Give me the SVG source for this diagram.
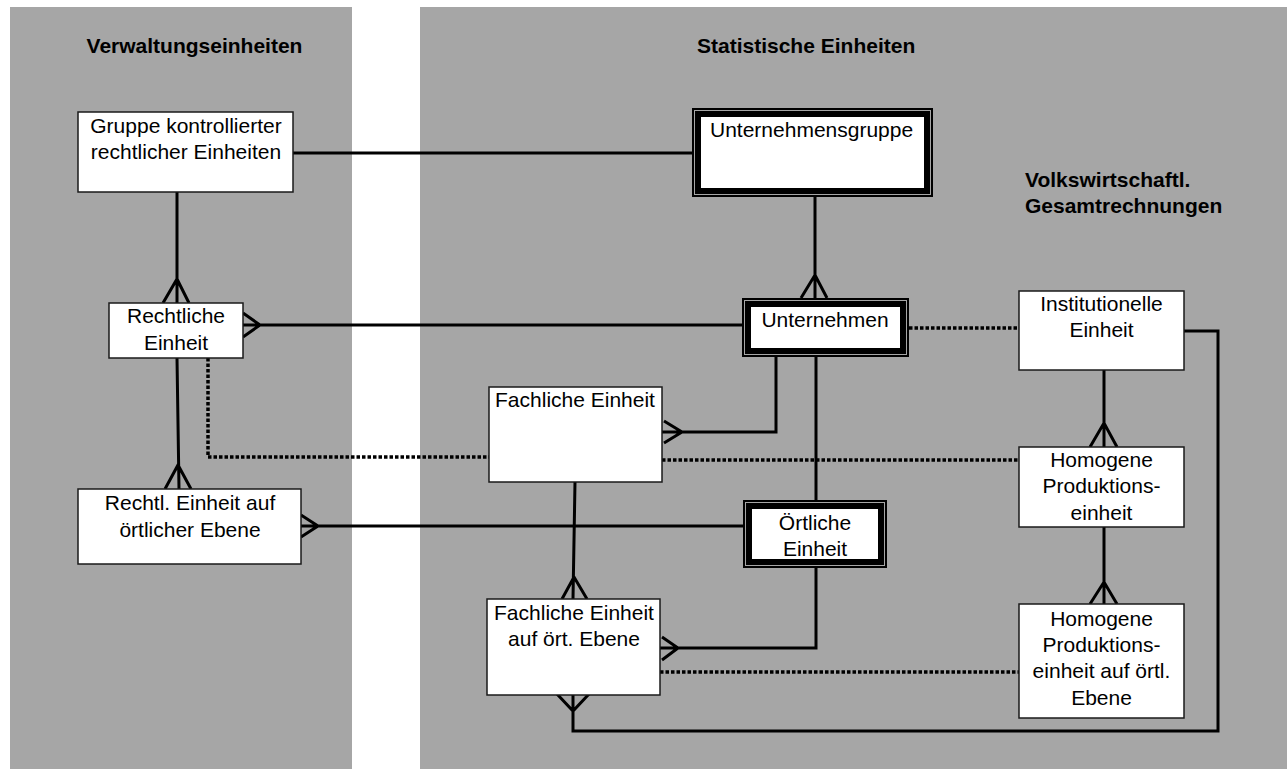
<svg xmlns="http://www.w3.org/2000/svg" width="1287" height="769" viewBox="0 0 1287 769">
<style>
.panel{fill:#a6a6a6}
.box{fill:#fff;stroke:#1a1a1a;stroke-width:1.5}
.outer{fill:#000}
.gap{fill:none;stroke:#a6a6a6;stroke-width:1}
.inner{fill:#fff}
.ln{fill:none;stroke:#000;stroke-width:3}
.dot{fill:none;stroke:#000;stroke-width:3.5;stroke-dasharray:3.5 2}
.t{font-family:"Liberation Sans",Arial,sans-serif;font-size:21px;fill:#000}
.c{text-anchor:middle}
.h{font-weight:bold}
</style>
<rect width="1287" height="769" fill="#fff"/>
<g id="panels">
<rect class="panel" x="10" y="7" width="342" height="762"/>
<rect class="panel" x="420" y="7" width="867" height="762"/>
<text class="t h c" x="194.5" y="53">Verwaltungseinheiten</text>
<text class="t h" x="697" y="53">Statistische Einheiten</text>
<text class="t h" x="1025" y="187">Volkswirtschaftl.</text>
<text class="t h" x="1025" y="213">Gesamtrechnungen</text>
</g>
<g id="connectors">
<path class="ln" d="M293,153H692"/>
<path class="ln" d="M177,192V303M163,303L177,279L189,303"/>
<path class="ln" d="M243,325H742M243,313L260,325L243,337"/>
<path class="ln" d="M177,358L179,489M165,489L178,465L191,489"/>
<path class="dot" d="M208,358V457H489"/>
<path class="ln" d="M301,526H743M301,515L318,526L301,537"/>
<path class="ln" d="M815,197V298M801,298L815,275L827,298"/>
<path class="ln" d="M776,357V432H662M664,421L682,432L664,443"/>
<path class="ln" d="M816,357V500"/>
<path class="dot" d="M909,328H1019"/>
<path class="ln" d="M1184,331H1218V731H573V695M557,694L573,711L589,694"/>
<path class="ln" d="M1104,370V447M1090,447L1104,423L1117,447"/>
<path class="ln" d="M1104,527V604M1090,604L1104,582L1117,604"/>
<path class="dot" d="M662,460H1019"/>
<path class="ln" d="M575,482L573,599M562,599L574,577L587,599"/>
<path class="ln" d="M816,568V648H660M662,637L678,648L662,660"/>
<path class="dot" d="M660,672H1019"/>
</g>
<g id="gruppe">
<rect class="box" x="78" y="112" width="215" height="80"/>
<text class="t c" x="186" y="133">Gruppe kontrollierter</text>
<text class="t c" x="186" y="159">rechtlicher Einheiten</text>
</g>
<g id="rechtliche">
<rect class="box" x="109" y="303" width="134" height="55"/>
<text class="t c" x="176" y="323">Rechtliche</text>
<text class="t c" x="176" y="350">Einheit</text>
</g>
<g id="rechtl-oertlich">
<rect class="box" x="78" y="489" width="223" height="75"/>
<text class="t c" x="190" y="510">Rechtl. Einheit auf</text>
<text class="t c" x="190" y="537">örtlicher Ebene</text>
</g>
<g id="unternehmensgruppe">
<rect class="outer" x="692" y="108" width="241" height="89"/>
<rect class="gap" x="694.5" y="110.5" width="236" height="84"/>
<rect class="inner" x="701" y="117" width="223" height="71"/>
<text class="t" x="710" y="137">Unternehmensgruppe</text>
</g>
<g id="unternehmen">
<rect class="outer" x="742" y="298" width="167" height="59"/>
<rect class="gap" x="744.5" y="300.5" width="162" height="54"/>
<rect class="inner" x="751" y="307" width="149" height="41"/>
<text class="t c" x="825" y="327">Unternehmen</text>
</g>
<g id="oertliche">
<rect class="outer" x="743" y="500" width="144" height="68"/>
<rect class="gap" x="745.5" y="502.5" width="139" height="63"/>
<rect class="inner" x="752" y="509" width="126" height="50"/>
<text class="t c" x="815" y="530">Örtliche</text>
<text class="t c" x="815" y="556">Einheit</text>
</g>
<g id="fachliche">
<rect class="box" x="489" y="387" width="173" height="95"/>
<text class="t c" x="575" y="407">Fachliche Einheit</text>
</g>
<g id="fachliche-oertlich">
<rect class="box" x="487" y="599" width="173" height="96"/>
<text class="t c" x="574" y="620">Fachliche Einheit</text>
<text class="t c" x="574" y="646">auf ört. Ebene</text>
</g>
<g id="institutionelle">
<rect class="box" x="1019" y="291" width="165" height="79"/>
<text class="t c" x="1101.5" y="311">Institutionelle</text>
<text class="t c" x="1101.5" y="337">Einheit</text>
</g>
<g id="homogene">
<rect class="box" x="1019" y="447" width="165" height="80"/>
<text class="t c" x="1101.5" y="467">Homogene</text>
<text class="t c" x="1101.5" y="493">Produktions-</text>
<text class="t c" x="1101.5" y="520">einheit</text>
</g>
<g id="homogene-oertlich">
<rect class="box" x="1019" y="604" width="165" height="114"/>
<text class="t c" x="1101.5" y="626">Homogene</text>
<text class="t c" x="1101.5" y="652">Produktions-</text>
<text class="t c" x="1101.5" y="678">einheit auf örtl.</text>
<text class="t c" x="1101.5" y="705">Ebene</text>
</g>
</svg>
